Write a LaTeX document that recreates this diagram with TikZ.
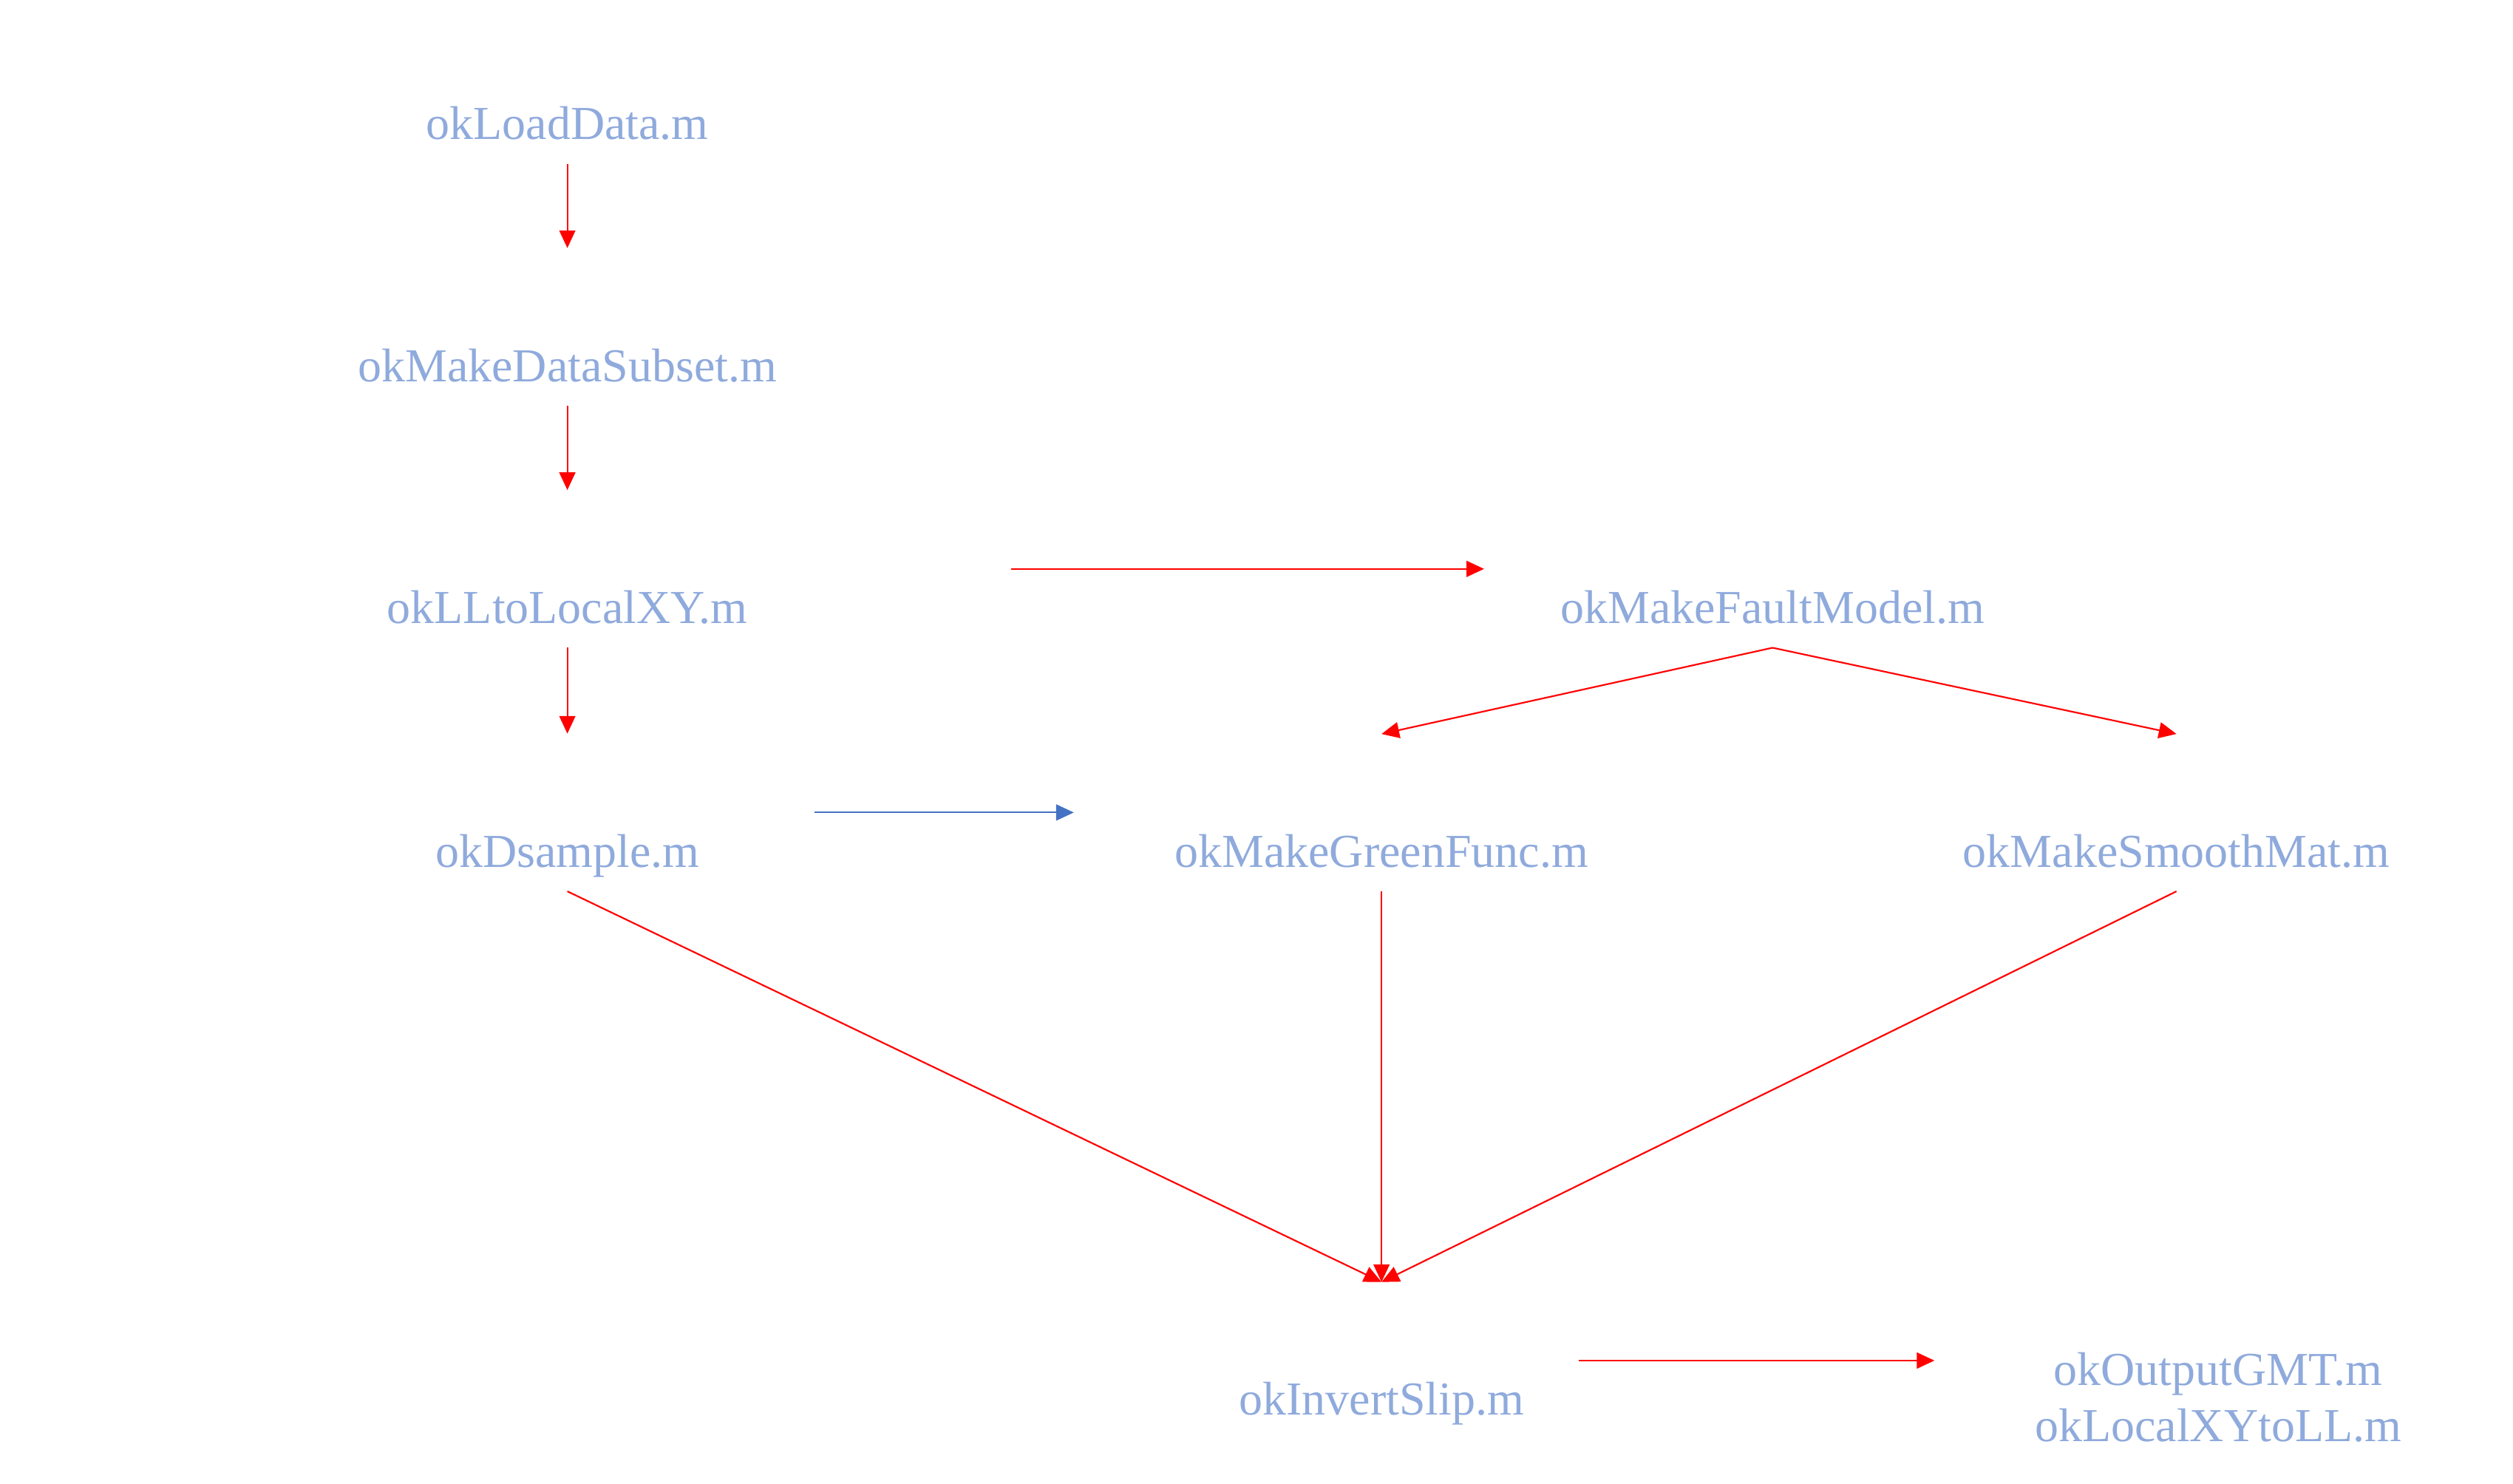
\documentclass[tikz,border=0pt]{standalone}
\usepackage{fontspec}
\setmainfont{Liberation Serif}
\usetikzlibrary{arrows.meta}
\definecolor{txtblue}{HTML}{8FAADC}
\definecolor{arrred}{HTML}{FF0000}
\definecolor{arrblue}{HTML}{4472C4}
\begin{document}
\begin{tikzpicture}[x=1pt,y=-1pt,
  file/.style={text=txtblue,font=\fontsize{29.5}{35}\selectfont,text height=20pt,text depth=0pt,minimum height=50pt,inner sep=0pt,align=center},
  redarr/.style={draw=arrred,line width=1pt,-{Triangle[width=10pt,length=11pt]}},
  bluearr/.style={draw=arrblue,line width=1pt,-{Triangle[width=10pt,length=11pt]}}]
\useasboundingbox (0,0) rectangle (1568,926);
\node[file] (load) at (354,77) {okLoadData.m};
\node[file] (subset) at (354,228) {okMakeDataSubset.m};
\node[file] (ll) at (354,379) {okLLtoLocalXY.m};
\node[file] (ds) at (354,531) {okDsample.m};
\node[file] (fault) at (1106,379) {okMakeFaultModel.m};
\node[file] (green) at (862,531) {okMakeGreenFunc.m};
\node[file] (smooth) at (1358,531) {okMakeSmoothMat.m};
\node[file] (invert) at (862,873) {okInvertSlip.m};
\node[file,text height=55pt,minimum height=80pt] (out) at (1384,872) {okOutputGMT.m\\okLocalXYtoLL.m};
\coordinate (llE) at (631,355);
\coordinate (faultW) at (926,355);
\coordinate (greenT) at (862,458);
\coordinate (smoothT) at (1358,458);
\coordinate (dsE) at (508,507);
\coordinate (greenW) at (670,507);
\coordinate (conv) at (862,800);
\coordinate (invE) at (985,849);
\coordinate (outW) at (1207,849);
\draw[redarr,shorten >=48pt] (load.south) -- (subset.north);
\draw[redarr,shorten >=48pt] (subset.south) -- (ll.north);
\draw[redarr,shorten >=48pt] (ll.south) -- (ds.north);
\draw[redarr] (llE) -- (faultW);
\draw[redarr] (fault.south) -- (greenT);
\draw[redarr] (fault.south) -- (smoothT);
\draw[bluearr] (dsE) -- (greenW);
\draw[redarr] (ds.south) -- (conv);
\draw[redarr] (green.south) -- (conv);
\draw[redarr] (smooth.south) -- (conv);
\draw[redarr] (invE) -- (outW);
\end{tikzpicture}
\end{document}
